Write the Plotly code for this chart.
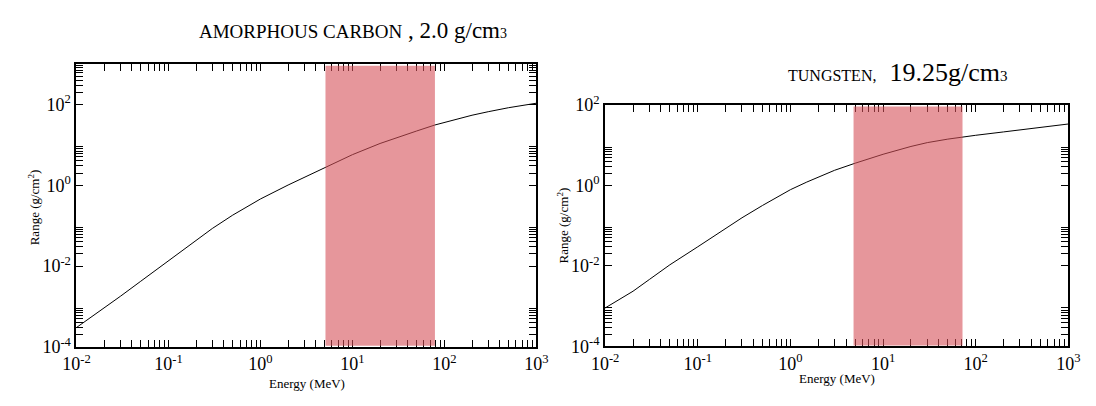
import plotly.graph_objects as go

# ---- data ----
energy_carbon = [0.01, 0.02, 0.03, 0.05, 0.1, 0.2, 0.3, 0.5, 0.7, 1, 2, 3, 5, 10, 20, 30, 50, 79, 100, 200,
                 300, 500, 1000]
range_carbon = [3.0e-4, 9.1e-4, 1.78e-3, 4.2e-3, 1.35e-2, 4.3e-2, 8.5e-2, 0.182, 0.289, 0.456, 1.01, 1.58, 2.74,
                5.7, 10.8, 15.0, 22.0, 31.0, 36.0, 54.0, 66.0, 83.0, 107.0]

energy_tungsten = [0.01, 0.02, 0.03, 0.05, 0.1, 0.2, 0.3, 0.5, 0.7, 1, 1.5, 2, 3, 5, 10, 20, 30, 50, 72, 100,
                   200, 300, 500, 1000]
range_tungsten = [9.0e-4, 2.35e-3, 4.6e-3, 1.07e-2, 3.0e-2, 8.5e-2, 0.158, 0.32, 0.50, 0.79, 1.22, 1.62, 2.4,
                  3.6, 6.0, 9.4, 11.7, 14.3, 16.2, 17.8, 21.6, 24.2, 28.0, 34.0]

band_carbon = [5.1, 79.0]
band_tungsten = [4.8, 72.0]

x_tick_vals = [1e-2, 1e-1, 1, 10, 100, 1000]
x_tick_text = ["10<sup>-2</sup>", "10<sup>-1</sup>", "10<sup>0</sup>", "10<sup>1</sup>", "10<sup>2</sup>", "10<sup>3</sup>"]
y_tick_vals = [1e-4, 1e-2, 1, 100]
y_tick_text = ["10<sup>-4</sup>", "10<sup>-2</sup>", "10<sup>0</sup>", "10<sup>2</sup>"]

x_minor = [k * 10.0 ** n for n in range(-2, 3) for k in range(2, 10)]
y_minor = [k * v for v in y_tick_vals for k in range(2, 10)]

# all tick positions (major + minor), labels only on the majors
x_all_vals = x_tick_vals + x_minor
x_all_text = x_tick_text + [""] * len(x_minor)
y_all_vals = y_tick_vals + y_minor
y_all_text = y_tick_text + [""] * len(y_minor)

FONT = "Liberation Serif, Times New Roman, serif"
W, H = 1096, 406

LX = [64 / W, 535 / W]
LY = [52 / H, 351 / H]
RX = [605.5 / W, 1080 / W]
RY = [52.5 / H, 307.5 / H]

fig = go.Figure()
fig.add_trace(go.Scatter(x=energy_carbon, y=range_carbon, mode="lines",
                         line=dict(color="black", width=1), xaxis="x", yaxis="y", showlegend=False))
fig.add_trace(go.Scatter(x=energy_tungsten, y=range_tungsten, mode="lines",
                         line=dict(color="black", width=1), xaxis="x2", yaxis="y2", showlegend=False))

band_color = "rgba(214,80,88,0.6)"
fig.add_shape(type="rect", xref="x", yref="y domain", x0=band_carbon[0], x1=band_carbon[1],
              y0=0.004, y1=0.994, fillcolor=band_color, line=dict(width=0), layer="above")
fig.add_shape(type="rect", xref="x2", yref="y2 domain", x0=band_tungsten[0], x1=band_tungsten[1],
              y0=0.004, y1=0.994, fillcolor=band_color, line=dict(width=0), layer="above")

base = dict(type="log", showgrid=False, zeroline=False, showline=True, linewidth=2, linecolor="black",
            ticks="inside", ticklen=7, tickwidth=1, tickcolor="black", mirror="ticks",
            tickmode="array", tickfont=dict(family=FONT, size=18, color="black"))

fig.update_layout(
    width=W, height=H,
    margin=dict(l=0, r=0, t=0, b=0),
    paper_bgcolor="white", plot_bgcolor="white",
    font=dict(family=FONT, color="black"),
    xaxis=dict(base, domain=LX, anchor="y", range=[-2, 3], tickvals=x_all_vals, ticktext=x_all_text),
    yaxis=dict(base, domain=LY, anchor="x", range=[-4, 3], tickvals=y_all_vals, ticktext=y_all_text),
    xaxis2=dict(base, domain=RX, anchor="y2", range=[-2, 3], tickvals=x_all_vals, ticktext=x_all_text),
    yaxis2=dict(base, domain=RY, anchor="x2", range=[-4, 2], tickvals=y_all_vals, ticktext=y_all_text),
)

annotations = [
    dict(x=187 / W, y=1 - 20 / H, xref="paper", yref="paper", xanchor="left", yanchor="middle",
         showarrow=False, font=dict(size=23),
         text="<span style='font-size:19px'>AMORPHOUS CARBON</span>"
              " , 2.0 g/cm<span style='font-size:14px'>3</span>"),
    dict(x=791 / W, y=1 - 64 / H, xref="paper", yref="paper", xanchor="left", yanchor="middle",
         showarrow=False, font=dict(size=26),
         text="<span style='font-size:16px'>TUNGSTEN,</span>"
              "  19.25g/cm<span style='font-size:15px'>3</span>"),
    dict(x=300 / W, y=1 - 393 / H, xref="paper", yref="paper", xanchor="center", yanchor="middle",
         showarrow=False, text="Energy (MeV)", font=dict(size=13)),
    dict(x=843 / W, y=1 - 388 / H, xref="paper", yref="paper", xanchor="center", yanchor="middle",
         showarrow=False, text="Energy (MeV)", font=dict(size=13)),
    dict(x=20 / W, y=1 - 207 / H, xref="paper", yref="paper", xanchor="center", yanchor="middle",
         showarrow=False, text="Range (g/cm<sup>2</sup>)", textangle=-90, font=dict(size=13)),
    dict(x=562 / W, y=1 - 226 / H, xref="paper", yref="paper", xanchor="center", yanchor="middle",
         showarrow=False, text="Range (g/cm<sup>2</sup>)", textangle=-90, font=dict(size=13)),
]
fig.update_layout(annotations=annotations)

fig.write_html("out.html")
